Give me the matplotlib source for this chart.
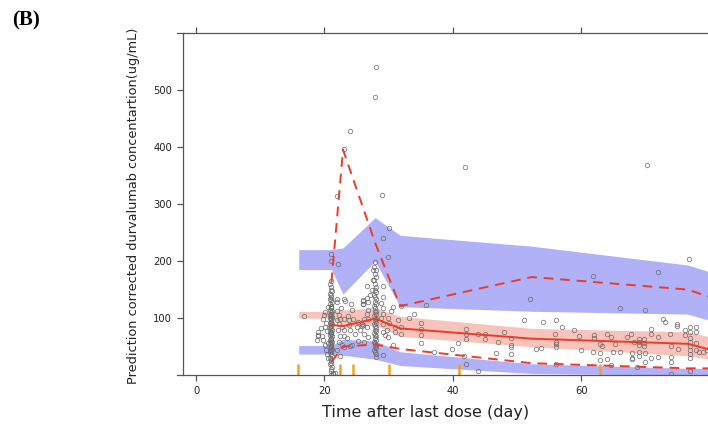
import matplotlib.pyplot as plt

# bins / VPC summary (time in days, concentration in ug/mL)
node_t = [16.0, 21.1, 22.9, 27.9, 31.8, 52.3, 76.6, 80.0]

hi_ci_lo = [185, 185, 142, 200, 120, 112, 107, 96]
hi_ci_hi = [220, 220, 223, 276, 245, 226, 193, 181]
med_ci_lo = [100, 100, 85, 88, 68, 50, 34, 28]
med_ci_hi = [112, 112, 114, 118, 103, 82, 76, 67]
lo_ci_lo = [37, 37, 35, 28, 17, 3, 0, 0]
lo_ci_hi = [52, 52, 63, 60, 41, 20, 12, 12]

line_t = [21.1, 22.9, 27.9, 31.8, 52.3, 76.6, 80.0]
obs_median = [88, 86, 99, 82, 64, 55, 45]
obs_p05 = [23, 50, 54, 46, 21, 12, 12]
obs_p95 = [163, 395, 232, 121, 172, 150, 137]

bin_edges = [15.9, 22.5, 24.5, 30.0, 41.0, 63.0]

# observed data
early_t = [16.8, 19.05, 19.05, 18.95, 18.8, 19.8, 20.1, 20.1, 19.7, 19.8, 20.1, 20.2,
           20.45, 20.6, 20.5, 20.3, 20.4, 20.5, 19.5, 20.0]
early_c = [104, 76, 70, 69, 62, 98, 111, 85, 69, 62, 53, 44,
           37, 30, 120, 92, 78, 57, 82, 105]

col21_t = [21.0, 20.9, 21.1, 21.0, 21.2, 20.9, 21.0, 21.1, 20.8, 21.0, 21.2, 20.9,
           21.0, 21.1, 21.0, 20.9, 21.2, 21.0, 21.1, 20.8, 21.0, 21.2, 20.9, 21.0,
           21.1, 21.0, 20.9, 21.2, 21.0, 21.1, 20.8, 21.0, 21.2, 20.9, 21.0, 21.1,
           21.0, 20.9, 21.2, 21.0, 21.1, 20.8, 21.0, 21.2, 20.9, 21.0, 21.1, 21.0,
           20.9, 21.2, 21.0, 21.1, 20.8, 21.0, 21.2, 20.9, 21.0, 21.1, 21.0, 20.9,
           21.2, 21.0, 21.1, 21.3, 21.0, 21.4, 21.0, 21.1]
col21_c = [165, 160, 155, 150, 147, 143, 140, 137, 134, 131, 128, 125,
           122, 120, 117, 115, 112, 110, 108, 106, 104, 102, 100, 98,
           96, 94, 92, 90, 88, 86, 84, 82, 80, 78, 76, 74,
           72, 70, 68, 66, 64, 62, 60, 58, 56, 54, 52, 50,
           48, 46, 44, 42, 40, 37, 34, 31, 28, 25, 22, 19,
           15, 11, 7, 3, 1, 2, 212, 200]

mid_t = [21.9, 22.0, 23.0, 23.2, 21.9, 22.3, 21.9, 22.4, 23.0, 22.2, 22.7, 22.1,
         23.0, 22.4, 23.0, 22.2, 22.7, 23.0, 21.9, 22.4, 24.1, 24.35, 23.9, 23.9,
         24.0, 24.5, 25.3, 25.0, 25.5, 26.0, 26.6, 26.8, 24.0, 24.3, 26.7, 26.0,
         26.0, 25.95, 26.0, 26.1, 25.8, 25.8, 26.2, 26.1, 26.6, 26.8, 26.8, 26.7,
         26.8, 27.4, 27.1, 27.5, 27.6, 22.1, 23.5, 24.8, 25.2, 22.6, 23.6, 21.6]
mid_c = [134, 129, 133, 130, 113, 105, 96, 98, 98, 90, 85, 79,
         79, 69, 69, 59, 53, 49, 44, 34, 124, 114, 97, 88,
         79, 99, 94, 85, 79, 88, 108, 98, 51, 53, 156, 130,
         124, 131, 125, 99, 90, 86, 73, 59, 136, 129, 114, 85,
         67, 149, 140, 166, 184, 194, 66, 72, 60, 118, 103, 4]

col28_t = [27.9, 27.8, 28.0, 27.9, 28.1, 27.8, 27.9, 28.0, 27.9, 28.1, 27.8, 27.9,
           28.0, 27.9, 28.1, 27.8, 27.9, 28.0, 27.9, 28.1, 27.8, 27.9, 28.0, 27.9,
           28.1, 27.8, 27.9, 28.0, 27.9, 28.1, 27.8, 27.9, 28.0, 27.9, 28.1, 27.8,
           27.9, 28.0, 27.9, 28.1, 27.8, 27.9, 28.0, 28.1, 29.1]
col28_c = [198, 190, 184, 178, 172, 166, 160, 155, 150, 145, 141, 137,
           133, 129, 125, 121, 117, 113, 110, 107, 104, 101, 98, 95,
           92, 89, 86, 83, 80, 77, 74, 71, 68, 65, 62, 59,
           56, 53, 50, 47, 44, 41, 38, 32, 35]

post_t = [29.1, 29.2, 28.8, 29.1, 29.2, 28.8, 29.2, 29.1, 29.4, 29.96, 29.7, 29.96,
          30.1, 30.7, 31.05, 31.05, 30.7, 33.2, 34.0, 35.0, 35.0, 35.0, 35.0, 35.9,
          32.0, 37.0, 32.0, 32.0, 29.96, 30.4, 31.5]
post_c = [156, 137, 126, 117, 108, 100, 90, 76, 70, 67, 79, 100,
          92, 119, 85, 76, 53, 101, 107, 92, 81, 71, 57, 123,
          121, 40, 85, 73, 207, 112, 96]

late_t = [42.0, 42.0, 42.0, 40.8, 39.9, 41.7, 42.0, 43.9, 44.0, 45.0, 45.0, 46.7,
          47.0, 48.0, 49.0, 49.0, 49.0, 49.0, 51.1, 54.0, 56.0, 57.0, 52.9, 53.8,
          55.9, 56.0, 56.0, 56.0, 56.0, 58.9, 59.7, 62.0, 62.0, 64.0, 64.7, 62.9,
          63.2, 65.2, 60.0, 61.8, 63.0, 65.0, 66.0, 63.0, 64.0, 64.6, 67.2, 67.8,
          68.2, 67.9, 67.9, 67.9, 69.0, 69.0, 69.0, 69.0, 69.0, 69.8, 69.8, 69.8,
          70.0, 70.0, 70.8, 70.8, 70.9, 71.9, 72.0, 72.8, 73.1, 73.9, 74.0, 74.0,
          74.0, 74.0, 74.9, 74.9, 75.0, 76.1, 76.1, 76.9, 76.9, 76.9, 76.9, 76.9,
          76.9, 76.9, 76.9, 76.9, 77.9, 77.9, 77.9, 77.9, 78.3, 79.0, 79.6, 68.7]
late_c = [81, 73, 63, 56, 46, 34, 20, 7, 72, 72, 63, 39,
          59, 75, 66, 53, 50, 37, 97, 93, 97, 85, 46, 48,
          72, 58, 55, 49, 20, 79, 69, 70, 66, 73, 67, 54,
          52, 54, 44, 41, 39, 40, 41, 27, 28, 18, 67, 72,
          58, 39, 31, 28, 64, 58, 53, 41, 34, 64, 57, 51,
          39, 23, 73, 81, 30, 67, 32, 98, 93, 73, 52, 32,
          23, 2, 89, 87, 46, 80, 70, 85, 76, 66, 58, 51,
          45, 37, 30, 7, 85, 75, 56, 44, 41, 40, 45, 14]

high_t = [24.0, 23.05, 21.96, 28.9, 30.0, 29.1, 28.0, 27.9, 41.85, 70.2, 76.8, 71.9,
          61.9, 66.0, 70.0, 52.0]
high_c = [427, 397, 314, 316, 258, 240, 540, 488, 364, 368, 203, 180,
          174, 118, 114, 134]

blue = "#b1b1f7"
pink = "#f8c3bb"
red = "#ee3a2a"
axis_col = "#555555"

fig = plt.figure(figsize=(7.08, 4.25), dpi=100)
ax = fig.add_axes([183.3 / 708, 49.8 / 425, (773.8 - 183.3) / 708, (392.3 - 49.8) / 425])
ax.set_xlim(-1.98, 90)
ax.set_ylim(0, 600)

ax.fill_between(node_t, hi_ci_lo, hi_ci_hi, color=blue, lw=0)
ax.fill_between(node_t, lo_ci_lo, lo_ci_hi, color=blue, lw=0)
ax.fill_between(node_t, med_ci_lo, med_ci_hi, color=pink, lw=0)

for t_, c_ in [(early_t, early_c), (col21_t, col21_c), (mid_t, mid_c), (col28_t, col28_c),
               (post_t, post_c), (late_t, late_c), (high_t, high_c)]:
    ax.plot(t_, c_, "o", ms=3.2, mfc="none", mec="#6a6a6a", mew=0.6, alpha=0.85)

ax.plot(line_t, obs_median, color=red, lw=1.4)
ax.plot(line_t, obs_p05, color=red, lw=1.4, ls=(0, (5, 3.5)))
ax.plot(line_t, obs_p95, color=red, lw=1.4, ls=(0, (5, 3.5)))

ax.vlines(bin_edges, 0, 19, color="#f4a020", lw=1.8)

# lattice-like frame
for s in ["top", "bottom"]:
    ax.spines[s].set_bounds(-2.9, 90)
    ax.spines[s].set_color(axis_col)
    ax.spines[s].set_linewidth(0.9)
ax.spines["left"].set_color(axis_col)
ax.spines["left"].set_linewidth(0.9)
ax.spines["right"].set_visible(False)

ax.set_xticks([0, 20, 40, 60])
ax.set_yticks([100, 200, 300, 400, 500])
ax.tick_params(axis="both", colors=axis_col, labelcolor="#222222", labelsize=7.2,
               length=4.5, width=0.9, direction="out")
ax.tick_params(axis="x", top=True, labeltop=False)

fig.text(425.5 / 708, 1 - 412 / 425, "Time after last dose (day)", ha="center", va="center",
         fontsize=11.5, color="#222222")
fig.text(133 / 708, 1 - 206 / 425, "Prediction corrected durvalumab concentartion(ug/mL)",
         ha="center", va="center", rotation=90, fontsize=9.3, color="#222222")
fig.text(12 / 708, 1 - 20 / 425, "(B)", ha="left", va="center", fontsize=15,
         fontweight="bold", family="Liberation Serif")

fig.savefig("out.png", dpi=100)
